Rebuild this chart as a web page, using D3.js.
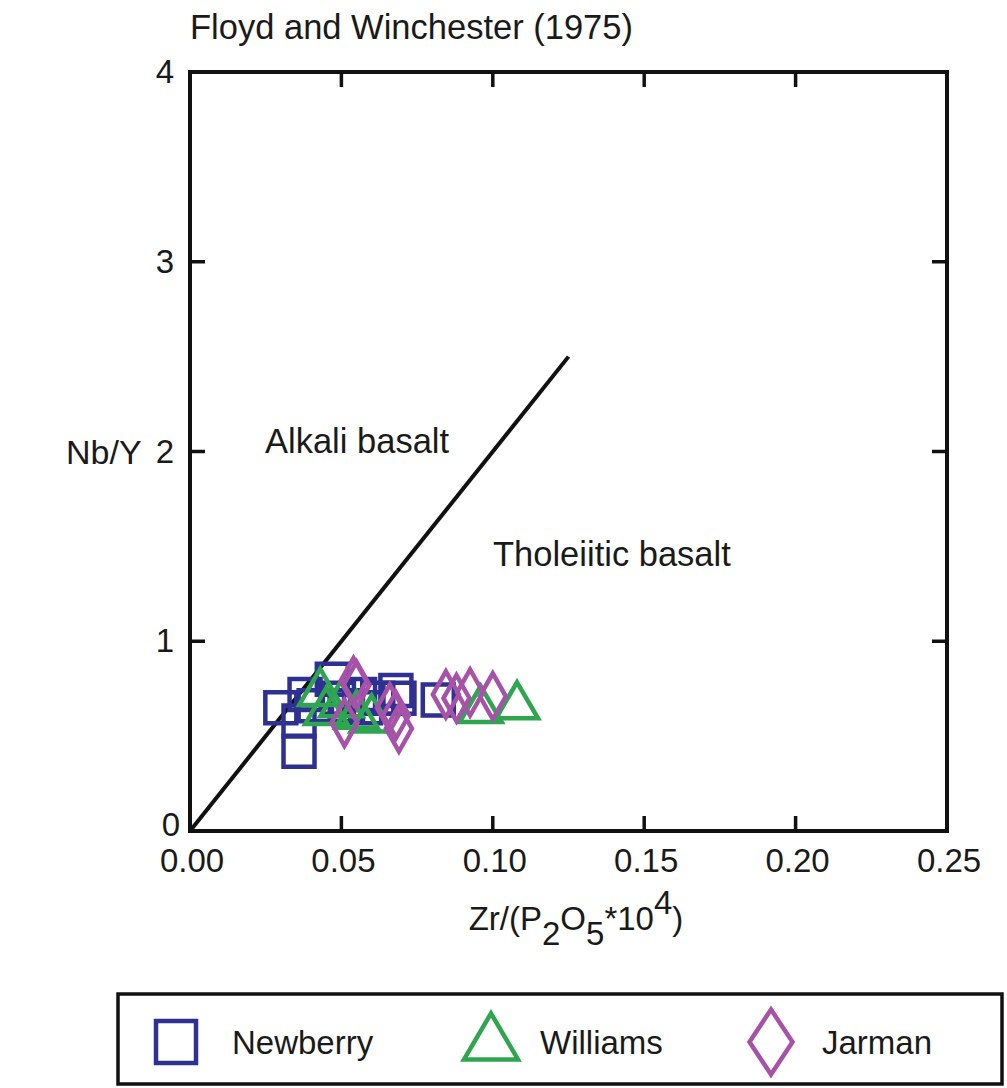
<!DOCTYPE html>
<html>
<head>
<meta charset="utf-8">
<script src="https://cdn.jsdelivr.net/npm/d3@7"></script>
<style>
  body { margin: 0; background: #fff; }
  text { font-family: "Liberation Sans", Arial, sans-serif; fill: #1a1a1a; }
</style>
</head>
<body>
<svg id="vis" width="1007" height="1088"></svg>
<script>
// data
const newberry = [
  [0.030, 0.65], [0.036, 0.42], [0.036, 0.58], [0.038, 0.72], [0.041, 0.66],
  [0.047, 0.80], [0.049, 0.70], [0.052, 0.66], [0.056, 0.72], [0.058, 0.65],
  [0.062, 0.70], [0.068, 0.74], [0.069, 0.70], [0.082, 0.69]
];
const williams = [
  [0.043, 0.74], [0.045, 0.64], [0.050, 0.68], [0.055, 0.62], [0.060, 0.60],
  [0.096, 0.65], [0.108, 0.67]
];
const jarman = [
  [0.054, 0.79], [0.055, 0.77], [0.051, 0.57], [0.066, 0.65], [0.068, 0.61],
  [0.069, 0.54], [0.0845, 0.72], [0.088, 0.70], [0.0925, 0.73], [0.100, 0.71]
];
const divider = [[0, 0], [0.125, 2.5]];
const xTicks = [0, 0.05, 0.10, 0.15, 0.20, 0.25];
const yTicks = [0, 1, 2, 3, 4];

const svg = d3.select('#vis');
const x = d3.scaleLinear().domain([0, 0.25]).range([190, 947]);
const y = d3.scaleLinear().domain([0, 4]).range([831, 72]);

const colNew = '#2e3192', colWil = '#2ea54f', colJar = '#a652a9';

// frame
svg.append('rect')
  .attr('x', x(0)).attr('y', y(4))
  .attr('width', x(0.25) - x(0)).attr('height', y(0) - y(4))
  .attr('fill', 'none').attr('stroke', '#111').attr('stroke-width', 4);

// inward ticks, all four sides
const tl = 15;
const g = svg.append('g').attr('stroke', '#111').attr('stroke-width', 3.5);
xTicks.slice(1, -1).forEach(t => {
  g.append('line').attr('x1', x(t)).attr('x2', x(t)).attr('y1', y(0)).attr('y2', y(0) - tl);
  g.append('line').attr('x1', x(t)).attr('x2', x(t)).attr('y1', y(4)).attr('y2', y(4) + tl);
});
yTicks.slice(1, -1).forEach(t => {
  g.append('line').attr('y1', y(t)).attr('y2', y(t)).attr('x1', x(0)).attr('x2', x(0) + tl);
  g.append('line').attr('y1', y(t)).attr('y2', y(t)).attr('x1', x(0.25)).attr('x2', x(0.25) - tl);
});

// tick labels
svg.selectAll('.xl').data(xTicks).enter().append('text')
  .attr('x', d => x(d) + 2).attr('y', 872)
  .attr('text-anchor', 'middle').attr('font-size', 33)
  .text(d => d3.format('.2f')(d));
svg.selectAll('.yl').data(yTicks).enter().append('text')
  .attr('x', d => d === 0 ? 180 : 174).attr('y', d => y(d) + (d === 0 ? 5 : 11))
  .attr('text-anchor', 'end').attr('font-size', 33)
  .text(d => d);

// titles
svg.append('text').attr('x', 190).attr('y', 39).attr('font-size', 34.5)
  .text('Floyd and Winchester (1975)');
svg.append('text').attr('x', 66).attr('y', 464).attr('font-size', 34).text('Nb/Y');

const xl = svg.append('text').attr('x', 576).attr('y', 930)
  .attr('text-anchor', 'middle').attr('font-size', 33);
xl.append('tspan').text('Zr/(P');
xl.append('tspan').attr('dy', 15).text('2');
xl.append('tspan').attr('dy', -15).text('O');
xl.append('tspan').attr('dy', 15).text('5');
xl.append('tspan').attr('dy', -15).text('*10');
xl.append('tspan').attr('dy', -16).text('4');
xl.append('tspan').attr('dy', 16).text(')');

// divider line
svg.append('path')
  .attr('d', d3.line().x(d => x(d[0])).y(d => y(d[1]))(divider))
  .attr('stroke', '#111').attr('stroke-width', 4).attr('fill', 'none');

svg.append('text').attr('x', 265).attr('y', 453).attr('font-size', 34.5).text('Alkali basalt');
svg.append('text').attr('x', 493).attr('y', 566).attr('font-size', 34.5).text('Tholeiitic basalt');

// symbols
const rc = (w, h) => `M${-w / 2},${-h / 2}h${w}v${h}h${-w}Z`;
const tri = (w, h) => `M0,${-h * 0.6}L${w / 2},${h * 0.4}L${-w / 2},${h * 0.4}Z`;
const dia = (w, h) => `M0,${-h / 2}L${w / 2},0L0,${h / 2}L${-w / 2},0Z`;

function plot(data, d, col) {
  svg.append('g').selectAll('path').data(data).enter().append('path')
    .attr('transform', p => `translate(${x(p[0])},${y(p[1])})`)
    .attr('d', d).attr('fill', 'none').attr('stroke', col).attr('stroke-width', 4.5);
}
plot(newberry, rc(31, 31), colNew);
plot(williams, tri(42, 36), colWil);
plot(jarman, dia(26, 46), colJar);

// legend
svg.append('rect').attr('x', 118).attr('y', 994).attr('width', 884).attr('height', 90)
  .attr('fill', 'none').attr('stroke', '#111').attr('stroke-width', 3.5);
const leg = [
  { name: 'Newberry', d: rc(40, 42), col: colNew, cx: 176, cy: 1042, tx: 232 },
  { name: 'Williams', d: tri(54, 46), col: colWil, cx: 491, cy: 1041, tx: 540 },
  { name: 'Jarman', d: dia(43, 65), col: colJar, cx: 771, cy: 1042, tx: 822 }
];
leg.forEach(l => {
  svg.append('path').attr('transform', `translate(${l.cx},${l.cy})`).attr('d', l.d)
    .attr('fill', 'none').attr('stroke', l.col).attr('stroke-width', 4.5);
  svg.append('text').attr('x', l.tx).attr('y', 1054).attr('font-size', 33).text(l.name);
});
</script>
</body>
</html>
